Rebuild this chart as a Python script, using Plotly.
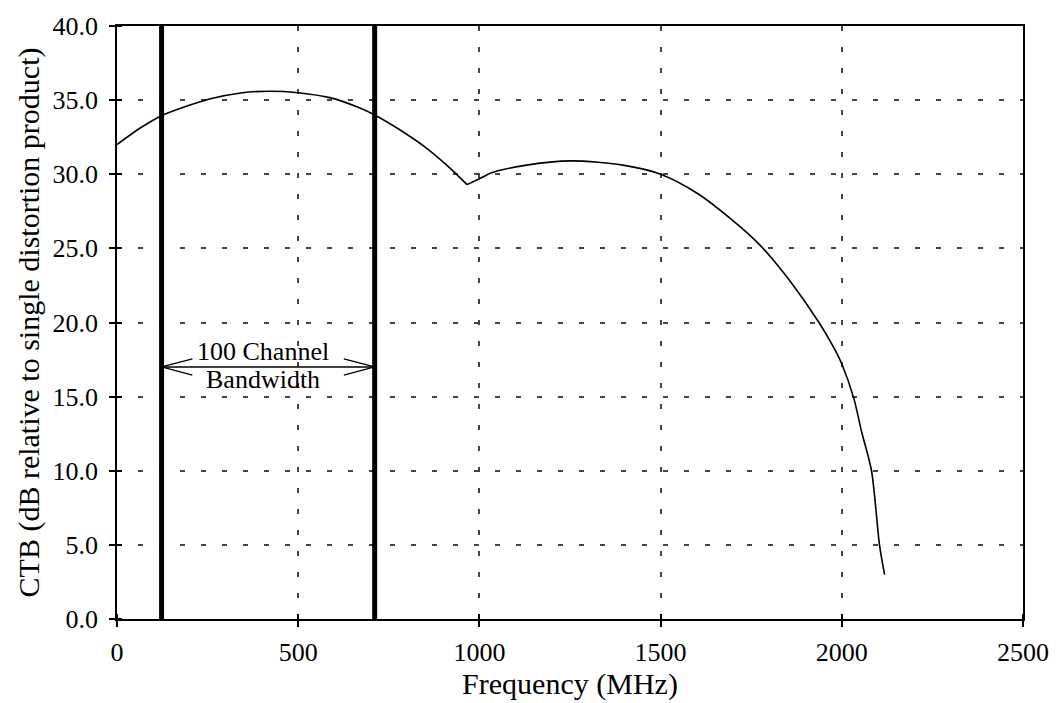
import plotly.graph_objects as go

# Data
freq_mhz = [0, 63, 123, 255, 346, 420, 500, 590, 667, 711, 777, 852, 915, 966,
            1000, 1034, 1126, 1253, 1400, 1500, 1602, 1693, 1775, 1857, 1937,
            1978, 2000, 2033, 2055, 2082, 2104, 2118]
ctb_db = [32.0, 33.1, 33.95, 35.07, 35.5, 35.6, 35.5, 35.15, 34.5, 34.0, 33.05,
          31.8, 30.5, 29.3, 29.7, 30.1, 30.6, 30.9, 30.6, 30.0, 28.7, 27.0,
          25.2, 22.8, 20.0, 18.3, 17.2, 14.9, 12.6, 10.0, 5.0, 3.0]
dip_index = 13  # the cusp near 966 MHz

band_edges = [123, 711]
band_label = ["100 Channel", "Bandwidth"]
band_arrow_y = 17.0

x_ticks = [0, 500, 1000, 1500, 2000, 2500]
y_ticks = [0, 5, 10, 15, 20, 25, 30, 35, 40]
y_tick_text = [f"{v:.1f}" for v in y_ticks]

FONT = "Liberation Serif"

fig = go.Figure()
for seg in (slice(0, dip_index + 1), slice(dip_index, None)):
    fig.add_trace(go.Scatter(x=freq_mhz[seg], y=ctb_db[seg], mode="lines",
                             line=dict(color="black", width=1.6, shape="spline",
                                       smoothing=0.8),
                             showlegend=False, hoverinfo="x+y"))

shapes = []
for e in band_edges:
    shapes.append(dict(type="line", xref="x", yref="y", x0=e, x1=e, y0=0, y1=40,
                       line=dict(color="black", width=5)))
# double arrow
lo, hi = band_edges
head_len = 85
head_h = 0.55
lw = dict(color="black", width=1.3)
shapes.append(dict(type="line", xref="x", yref="y", x0=lo, x1=hi,
                   y0=band_arrow_y, y1=band_arrow_y, line=lw))
for tip, sgn in ((lo, 1), (hi, -1)):
    for d in (head_h, -head_h):
        shapes.append(dict(type="line", xref="x", yref="y", x0=tip, y0=band_arrow_y,
                           x1=tip + sgn * head_len, y1=band_arrow_y + d, line=lw))

annotations = [
    dict(x=(lo + hi) / 2 - 15, y=band_arrow_y, xref="x", yref="y", text=band_label[0],
         showarrow=False, yanchor="bottom", yshift=-1,
         font=dict(family=FONT, size=26, color="black")),
    dict(x=(lo + hi) / 2 - 15, y=band_arrow_y, xref="x", yref="y", text=band_label[1],
         showarrow=False, yanchor="top", yshift=4,
         font=dict(family=FONT, size=26, color="black")),
]

grid_kw = dict(showgrid=True, gridcolor="#444444", gridwidth=1.5, griddash="5px,16px")

def minor(vals):
    return dict(tickvals=vals, ticks="inside", ticklen=5, tickwidth=1.5,
                tickcolor="black", showgrid=False)

fig.update_layout(
    width=1061, height=703,
    margin=dict(l=117, r=34, t=24, b=84),
    paper_bgcolor="white", plot_bgcolor="white",
    font=dict(family=FONT, size=26, color="black"),
    shapes=shapes, annotations=annotations,
    xaxis=dict(range=[0, 2500], tickvals=x_ticks, ticks="outside", ticklen=6,
               tickwidth=1.5, tickcolor="black", showline=True, linecolor="black",
               linewidth=1.5, mirror=True, zeroline=False, minor=minor(x_ticks),
               title=dict(text="Frequency (MHz)", standoff=0,
                          font=dict(family=FONT, size=30, color="black")),
               tickfont=dict(family=FONT, size=26, color="black"),
               ticklabelstandoff=3, **grid_kw),
    yaxis=dict(range=[0, 40], tickvals=y_ticks, ticktext=y_tick_text, ticks="outside",
               ticklen=6, tickwidth=1.5, tickcolor="black", showline=True,
               linecolor="black", linewidth=1.5, mirror=True, zeroline=False,
               minor=minor(y_ticks),
               title=dict(text="CTB (dB relative to single distortion product)",
                          standoff=4, font=dict(family=FONT, size=30, color="black")),
               tickfont=dict(family=FONT, size=26, color="black"),
               ticklabelstandoff=6, **grid_kw),
)

fig.write_html("out.html")
